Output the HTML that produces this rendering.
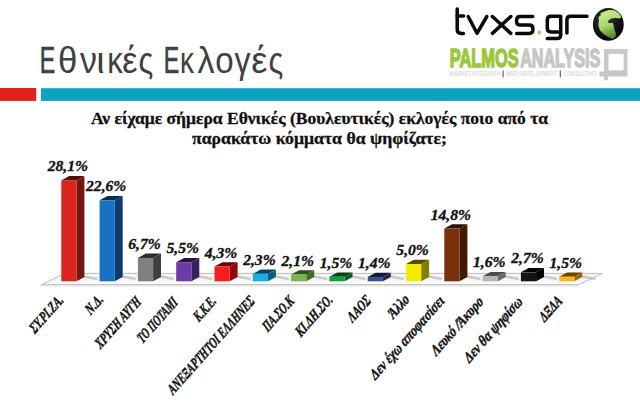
<!DOCTYPE html>
<html><head><meta charset="utf-8">
<style>
html,body{margin:0;padding:0;background:#fff;}
body{width:640px;height:402px;overflow:hidden;position:relative;}
svg{position:absolute;left:0;top:0;}
</style></head><body>
<svg width="640" height="402" viewBox="0 0 640 402">
<rect x="0" y="88" width="36.2" height="12.9" fill="#e2221a"/>
<rect x="41" y="88.2" width="599" height="12.7" fill="#0ea2c2"/>
<g font-family="Liberation Sans" font-size="36.5" fill="#404040"><text transform="translate(41.70,72.5) scale(0.635,1)" x="-3.00" stroke="#404040" stroke-width="0.7">Ε</text><text transform="translate(59.70,72.5) scale(0.951,1)" x="-1.90">θ</text><text transform="translate(80.00,72.5) scale(0.929,1)" x="-0.00">ν</text><text transform="translate(98.75,72.5) scale(1.033,1)" x="-2.40">ι</text><text transform="translate(109.40,72.5) scale(0.847,1)" x="-2.50">κ</text><text transform="translate(123.40,72.5) scale(0.937,1)" x="-1.20">έ</text><text transform="translate(139.80,72.5) scale(0.839,1)" x="-1.50">ς</text><text transform="translate(165.60,72.5) scale(0.635,1)" x="-3.00" stroke="#404040" stroke-width="0.7">Ε</text><text transform="translate(182.00,72.5) scale(0.764,1)" x="-2.50">κ</text><text transform="translate(197.80,72.5) scale(0.937,1)" x="-0.30">λ</text><text transform="translate(216.60,72.5) scale(0.907,1)" x="-1.50">ο</text><text transform="translate(234.50,72.5) scale(0.877,1)" x="-0.10">γ</text><text transform="translate(252.50,72.5) scale(0.993,1)" x="-1.20">έ</text><text transform="translate(269.70,72.5) scale(0.839,1)" x="-1.50">ς</text></g>
<g font-family="Liberation Serif" font-weight="bold" font-size="17" fill="#111" stroke="#111" stroke-width="0.3">
<text x="91" y="123.75" textLength="457" lengthAdjust="spacingAndGlyphs">Αν είχαμε σήμερα Εθνικές (Βουλευτικές) εκλογές ποιο από τα</text>
<text x="192" y="143.75" textLength="255" lengthAdjust="spacingAndGlyphs">παρακάτω κόμματα θα ψηφίζατε;</text>
</g>

<path d="M64.5,273.4 L602.5,273.4 L578.5,284.7 L41.5,284.7 Z" fill="#f6f6f6"/>
<path d="M41.5,282.9 L578.5,282.9" stroke="#fcfcfc" stroke-width="2.4"/>
<path d="M41.5,284.7 L64.5,273.4 L602.5,273.4 L578.5,284.7" fill="none" stroke="#b4b4b4" stroke-width="0.9"/>
<path d="M41.5,284.8 L578.5,284.8" stroke="#c4c4c4" stroke-width="1.5"/>
<path d="M41.5,286.2 L578.5,286.2" stroke="#ececec" stroke-width="1"/>

<defs><filter id="bl" filterUnits="userSpaceOnUse" x="0" y="240" width="640" height="60"><feGaussianBlur stdDeviation="0.7"/></filter></defs>
<g fill="none" stroke="#b4b4b4" stroke-width="2.6" filter="url(#bl)" opacity="0.65"><path d="M82.90,276.20L97.40,279.10"/><path d="M121.20,276.20L135.70,279.10"/><path d="M159.50,276.20L174.00,279.10"/><path d="M197.80,276.20L212.30,279.10"/><path d="M236.10,276.20L250.60,279.10"/><path d="M274.40,276.20L288.90,279.10"/><path d="M312.70,276.20L327.20,279.10"/><path d="M351.00,276.20L365.50,279.10"/><path d="M389.30,276.20L403.80,279.10"/><path d="M427.60,276.20L442.10,279.10"/><path d="M465.90,276.20L480.40,279.10"/><path d="M504.20,276.20L518.70,279.10"/><path d="M542.50,276.20L557.00,279.10"/><path d="M580.80,276.20L595.30,279.10"/></g>
<path d="M61.30,180.42L76.50,180.42L84.40,176.12L69.20,176.12Z" fill="#500c0a"/><path d="M76.50,180.42L84.40,176.12L84.40,277.00L76.50,281.30Z" fill="#741612"/><rect x="61.30" y="180.42" width="15.20" height="100.88" fill="#dc241f"/><path d="M99.60,200.33L114.80,200.33L122.70,196.03L107.50,196.03Z" fill="#082c50"/><path d="M114.80,200.33L122.70,196.03L122.70,277.00L114.80,281.30Z" fill="#0c3c6c"/><rect x="99.60" y="200.33" width="15.20" height="80.97" fill="#1a70c2"/><path d="M137.90,257.89L153.10,257.89L161.00,253.59L145.80,253.59Z" fill="#2c2c2c"/><path d="M153.10,257.89L161.00,253.59L161.00,277.00L153.10,281.30Z" fill="#3e3e3e"/><rect x="137.90" y="257.89" width="15.20" height="23.41" fill="#808080"/><path d="M176.20,262.23L191.40,262.23L199.30,257.93L184.10,257.93Z" fill="#281544"/><path d="M191.40,262.23L199.30,257.93L199.30,277.00L191.40,281.30Z" fill="#3a1f5e"/><rect x="176.20" y="262.23" width="15.20" height="19.07" fill="#6c3ca4"/><path d="M214.50,266.57L229.70,266.57L237.60,262.27L222.40,262.27Z" fill="#6a0404"/><path d="M229.70,266.57L237.60,262.27L237.60,277.00L229.70,281.30Z" fill="#900a0a"/><rect x="214.50" y="266.57" width="15.20" height="14.73" fill="#fa1c1c"/><path d="M252.80,273.81L268.00,273.81L275.90,269.51L260.70,269.51Z" fill="#074564"/><path d="M268.00,273.81L275.90,269.51L275.90,277.00L268.00,281.30Z" fill="#0b5f84"/><rect x="252.80" y="273.81" width="15.20" height="7.49" fill="#1cace6"/><path d="M291.10,274.54L306.30,274.54L314.20,270.24L299.00,270.24Z" fill="#30511a"/><path d="M306.30,274.54L314.20,270.24L314.20,277.00L306.30,281.30Z" fill="#426e24"/><rect x="291.10" y="274.54" width="15.20" height="6.76" fill="#78b848"/><path d="M329.40,276.71L344.60,276.71L352.50,272.41L337.30,272.41Z" fill="#054418"/><path d="M344.60,276.71L352.50,272.41L352.50,277.00L344.60,281.30Z" fill="#085e24"/><rect x="329.40" y="276.71" width="15.20" height="4.59" fill="#12a040"/><path d="M367.70,277.07L382.90,277.07L390.80,272.77L375.60,272.77Z" fill="#141a3a"/><path d="M382.90,277.07L390.80,272.77L390.80,277.00L382.90,281.30Z" fill="#1e2752"/><rect x="367.70" y="277.07" width="15.20" height="4.23" fill="#3c4c8c"/><path d="M406.00,264.04L421.20,264.04L429.10,259.74L413.90,259.74Z" fill="#524e00"/><path d="M421.20,264.04L429.10,259.74L429.10,277.00L421.20,281.30Z" fill="#847e00"/><rect x="406.00" y="264.04" width="15.20" height="17.26" fill="#f6ea00"/><path d="M444.30,228.56L459.50,228.56L467.40,224.26L452.20,224.26Z" fill="#2c0e02"/><path d="M459.50,228.56L467.40,224.26L467.40,277.00L459.50,281.30Z" fill="#421804"/><rect x="444.30" y="228.56" width="15.20" height="52.74" fill="#7a300a"/><path d="M482.60,276.35L497.80,276.35L505.70,272.05L490.50,272.05Z" fill="#4c4c4c"/><path d="M497.80,276.35L505.70,272.05L505.70,277.00L497.80,281.30Z" fill="#686868"/><rect x="482.60" y="276.35" width="15.20" height="4.95" fill="#b4b4b4"/><path d="M520.90,272.37L536.10,272.37L544.00,268.07L528.80,268.07Z" fill="#000000"/><path d="M536.10,272.37L544.00,268.07L544.00,277.00L536.10,281.30Z" fill="#000000"/><rect x="520.90" y="272.37" width="15.20" height="8.93" fill="#141414"/><path d="M559.20,276.71L574.40,276.71L582.30,272.41L567.10,272.41Z" fill="#6a4600"/><path d="M574.40,276.71L582.30,272.41L582.30,277.00L574.40,281.30Z" fill="#9a6a00"/><rect x="559.20" y="276.71" width="15.20" height="4.59" fill="#ffb612"/>
<g font-family="Liberation Serif" font-weight="bold" font-style="italic" font-size="15.6" fill="#111" stroke="#111" stroke-width="0.35">
<text x="67.90" y="171.42" text-anchor="middle">28,1%</text><text x="106.20" y="191.33" text-anchor="middle">22,6%</text><text x="144.50" y="248.89" text-anchor="middle">6,7%</text><text x="182.80" y="253.23" text-anchor="middle">5,5%</text><text x="221.10" y="257.57" text-anchor="middle">4,3%</text><text x="259.40" y="264.81" text-anchor="middle">2,3%</text><text x="297.70" y="265.54" text-anchor="middle">2,1%</text><text x="336.00" y="267.71" text-anchor="middle">1,5%</text><text x="374.30" y="268.07" text-anchor="middle">1,4%</text><text x="412.60" y="255.04" text-anchor="middle">5,0%</text><text x="450.90" y="219.56" text-anchor="middle">14,8%</text><text x="489.20" y="267.35" text-anchor="middle">1,6%</text><text x="527.50" y="263.37" text-anchor="middle">2,7%</text><text x="565.80" y="267.71" text-anchor="middle">1,5%</text>
</g>
<g id="cats" font-family="Liberation Serif" font-weight="bold" font-style="italic" font-size="14" fill="#111" stroke="#111" stroke-width="0.4">
<text class="cat" transform="translate(64.20,300.90) scale(1,1.13) rotate(-45)" text-anchor="end" textLength="41.8" lengthAdjust="spacingAndGlyphs">ΣΥ.ΡΙ.ΖΑ.</text><text class="cat" transform="translate(104.00,300.30) scale(1,1.13) rotate(-45)" text-anchor="end" textLength="19.0" lengthAdjust="spacingAndGlyphs">Ν.Δ.</text><text class="cat" transform="translate(141.90,302.60) scale(1,1.13) rotate(-45)" text-anchor="end" textLength="58.8" lengthAdjust="spacingAndGlyphs">ΧΡΥΣΗ ΑΥΓΗ</text><text class="cat" transform="translate(178.50,303.30) scale(1,1.13) rotate(-45)" text-anchor="end" textLength="50.9" lengthAdjust="spacingAndGlyphs">ΤΟ ΠΟΤΑΜΙ</text><text class="cat" transform="translate(217.00,302.00) scale(1,1.13) rotate(-45)" text-anchor="end" textLength="25.7" lengthAdjust="spacingAndGlyphs">Κ.Κ.Ε.</text><text class="cat" transform="translate(255.50,302.10) scale(1,1.13) rotate(-45)" text-anchor="end" textLength="116.6" lengthAdjust="spacingAndGlyphs">ΑΝΕΞΑΡΤΗΤΟΙ ΕΛΛΗΝΕΣ</text><text class="cat" transform="translate(294.70,302.10) scale(1,1.13) rotate(-45)" text-anchor="end" textLength="38.2" lengthAdjust="spacingAndGlyphs">ΠΑ.ΣΟ.Κ</text><text class="cat" transform="translate(333.50,300.60) scale(1,1.13) rotate(-45)" text-anchor="end" textLength="46.4" lengthAdjust="spacingAndGlyphs">ΚΙ.ΔΗ.ΣΟ.</text><text class="cat" transform="translate(371.75,301.35) scale(1,1.13) rotate(-45)" text-anchor="end" textLength="27.1" lengthAdjust="spacingAndGlyphs">ΛΑΟΣ</text><text class="cat" transform="translate(410.10,300.35) scale(1,1.13) rotate(-45)" text-anchor="end" textLength="23.7" lengthAdjust="spacingAndGlyphs">Άλλο</text><text class="cat" transform="translate(445.00,301.80) scale(1,1.13) rotate(-45)" text-anchor="end" textLength="98.5" lengthAdjust="spacingAndGlyphs">Δεν έχω αποφασίσει</text><text class="cat" transform="translate(484.00,302.50) scale(1,1.13) rotate(-45)" text-anchor="end" textLength="67.6" lengthAdjust="spacingAndGlyphs">Λευκό /Άκυρο</text><text class="cat" transform="translate(523.25,302.50) scale(1,1.13) rotate(-45)" text-anchor="end" textLength="76.5" lengthAdjust="spacingAndGlyphs">Δεν θα ψηφίσω</text><text class="cat" transform="translate(563.00,301.75) scale(1,1.13) rotate(-45)" text-anchor="end" textLength="26.3" lengthAdjust="spacingAndGlyphs">ΔΞΔΑ</text>
</g>
<g id="logo" fill="none" stroke="#0a0a0a" stroke-width="3.5" stroke-linecap="round" stroke-linejoin="round">
<path d="M457.2,9 V29.5 Q457.2,33.4 461.2,33.4 H463.4"/>
<path d="M457.2,16 H463.6"/>
<path d="M468.2,16.5 L477,33.3 L486.8,16.5"/>
<path d="M492.4,16.5 L510.8,33.4 M510.8,16.5 L492.4,33.4"/>
<path d="M532.8,16.5 H520.3 Q516.6,16.5 516.6,20.2 V21.4 Q516.6,25 520.3,25 H529.2 Q532.9,25 532.9,28.7 V29.7 Q532.9,33.4 529.2,33.4 H516.6"/>
<path d="M560.7,16.3 H551 Q547.3,16.3 547.3,20 V28.2 Q547.3,31.9 551,31.9 H560.7 M560.7,16.3 V34.9 Q560.7,38.6 557,38.6 H547.3"/>
<path d="M566.9,33 V20 Q566.9,16.3 570.6,16.3 H587"/>
</g>
<circle cx="539.3" cy="32.5" r="2" fill="#a6d05a"/>
<defs>
<linearGradient id="gg" x1="0" y1="0" x2="0.3" y2="1">
<stop offset="0" stop-color="#d0f0a0"/><stop offset="0.6" stop-color="#a8d868"/><stop offset="1" stop-color="#5a8a2a"/>
</linearGradient>
<radialGradient id="gb" cx="0.4" cy="0.35" r="0.7">
<stop offset="0" stop-color="#3a3a3a"/><stop offset="0.7" stop-color="#111"/><stop offset="1" stop-color="#000"/>
</radialGradient>
</defs>
<ellipse cx="608.3" cy="24.4" rx="15.4" ry="16.4" fill="url(#gb)"/>
<path d="M604.4,11.6 L608.8,9.9 L614.3,10.2 L618.6,12.9 L621.4,17.3 L619.7,18.4 L615.4,17.9 L611.5,18.4 L608.8,20.1 L607.7,22.2 L609.9,23.3 L612.6,22.8 L613.7,25.5 L614.3,29.4 L615.9,33.2 L615.4,37.0 L612.6,38.7 L608.2,37.0 L603.9,34.3 L600.0,30.4 L598.4,25.5 L598.9,20.6 L598.4,17.3 L601.1,15.1 L600.0,13.5 L602.2,12.4 Z" fill="url(#gg)"/>
<g font-family="Liberation Sans" font-weight="bold" font-size="26">
<text x="449.7" y="67.4" fill="#9cc63c" stroke="#9cc63c" stroke-width="1.5" textLength="69" lengthAdjust="spacingAndGlyphs">PALMOS</text>
<text x="520.2" y="67.4" fill="#c6c6c6" stroke="#c6c6c6" stroke-width="1.5" textLength="80" lengthAdjust="spacingAndGlyphs">ANALYSIS</text>
</g>
<g font-family="Liberation Sans" font-weight="bold" font-size="7" fill="#dcdcdc">
<text x="449.5" y="75.8" textLength="51" lengthAdjust="spacingAndGlyphs">MARKET RESEARCH</text>
<text x="506" y="75.8" textLength="51" lengthAdjust="spacingAndGlyphs">WEB DEVELOPMENT</text>
<text x="563.5" y="75.8" textLength="33" lengthAdjust="spacingAndGlyphs">CONSULTING</text>
</g>
<path d="M503.1,70.5 V77.2 M560.3,70.5 V77.2" stroke="#555" stroke-width="1.1"/>
<path d="M604,49 H627.5 V76.4 H608 V80.3 H604 V76.4 H599.5 V71.4 H604 Z M608.5,54 V70.2 H623.6 V54 Z" fill="#c8c8c8" fill-rule="evenodd"/>

</svg>
</body></html>
